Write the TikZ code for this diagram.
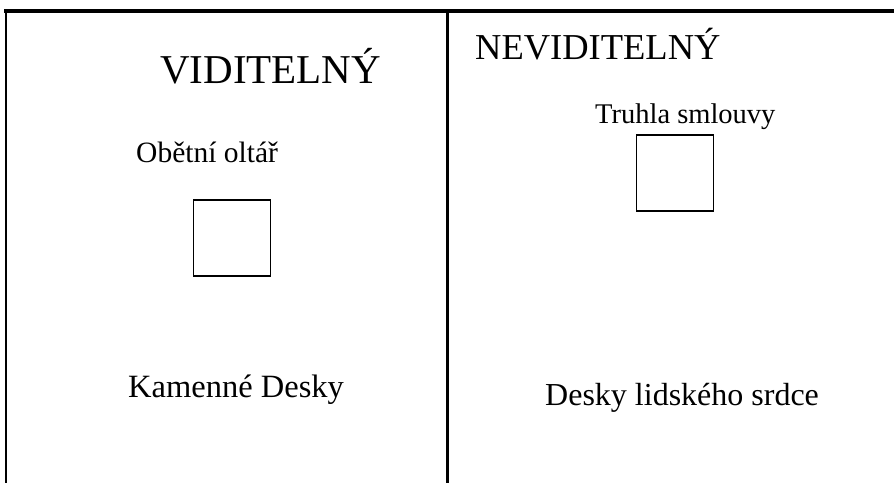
\documentclass[tikz,border=0pt]{standalone}
\usepackage{fontspec}
\setmainfont{Liberation Serif}
\usepackage{tikz}
\usetikzlibrary{positioning}

\begin{document}
\begin{tikzpicture}[
    x=1pt, y=-1pt,
    lbl/.style={inner sep=0pt, anchor=base west, font=\fontsize{#1}{#1}\selectfont},
    box/.style={draw, line width=1.3pt, minimum width=77pt, minimum height=76pt, inner sep=0pt},
    frame/.style={line cap=rect}
]
\useasboundingbox (0,0) rectangle (894,482);

% frame
\draw[frame, line width=4pt] (6,11) -- (894,11);
\draw[frame, line width=2.2pt] (6,11) -- (6,482);
\draw[frame, line width=3pt] (447.5,11) -- (447.5,482);

% left column
\node[lbl=41] (vid) at (160,83) {VIDITELNÝ};
\node[lbl=29.5] (oltar) at (136,162) {Obětní oltář};
\node[box] (oltarbox) at (232,238) {};
\node[lbl=32.5] (kamen) at (128,397) {Kamenné Desky};

% right column
\node[lbl=36.5] (nevid) at (475,59) {NEVIDITELNÝ};
\node[lbl=28.5] (truhla) at (595,123.5) {Truhla smlouvy};
\node[box] (truhlabox) at (675,173) {};
\node[lbl=32] (srdce) at (545,405) {Desky lidského srdce};
\end{tikzpicture}
\end{document}
